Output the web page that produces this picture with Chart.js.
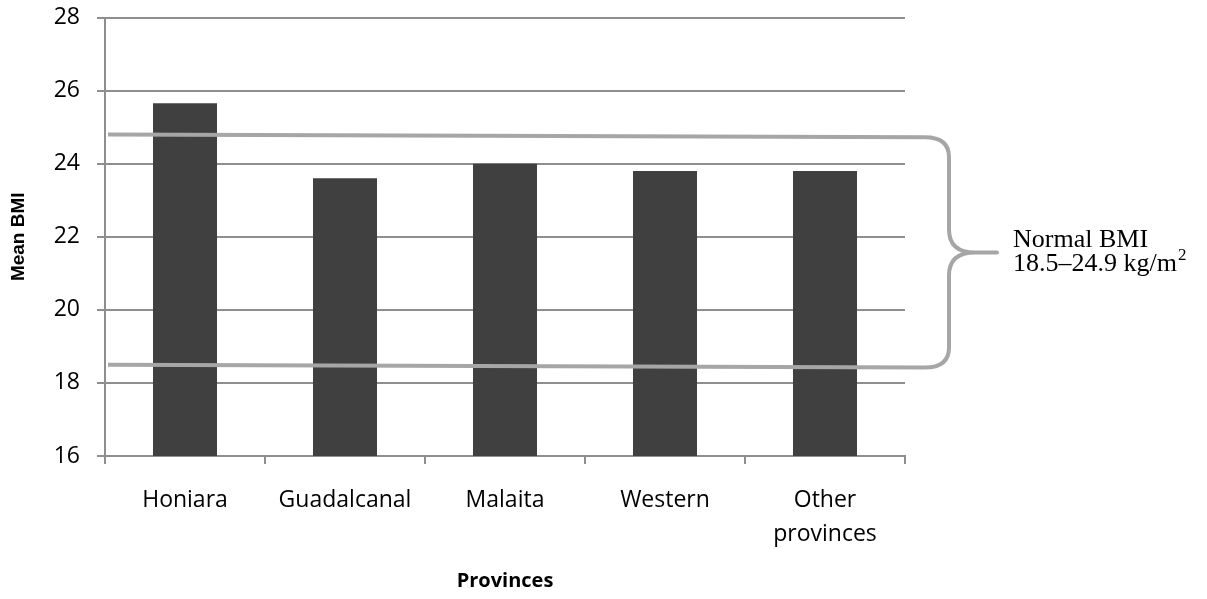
<!DOCTYPE html>
<html>
<head>
<meta charset="utf-8">
<script src="https://cdn.jsdelivr.net/npm/chart.js@4"></script>
<style>
  body { margin: 0; background: #fff; }
</style>
</head>
<body>
<canvas id="bmi" width="1207" height="599"></canvas>
<script>
// mean BMI per province
const provinces = ['Honiara', 'Guadalcanal', 'Malaita', 'Western', ['Other', 'provinces']];
const meanBmi = [25.65, 23.6, 24.0, 23.8, 23.8];
const yTicks = [16, 18, 20, 22, 24, 26, 28];

// normal range brace: upper / lower edge at the left and right end
const rangeUpper = [24.8, 24.72];
const rangeLower = [18.5, 18.42];
const rangeLabel = ['Normal BMI', '18.5\u201324.9 kg/m', '2'];

const gridColor = '#8e8e8e';
const tickFont = { family: 'Open Sans', size: 23 };

// draws the bracket lines and the label next to the chart
const bracePlugin = {
  id: 'brace',
  afterDatasetsDraw(chart) {
    const { ctx, chartArea, scales } = chart;
    const y = scales.y;
    const x0 = chartArea.left + 3;
    const xr = chartArea.right + 20;
    const xv = chartArea.right + 44;
    const xt = chartArea.right + 92;
    const yT0 = y.getPixelForValue(rangeUpper[0]);
    const yT1 = y.getPixelForValue(rangeUpper[1]);
    const yB0 = y.getPixelForValue(rangeLower[0]);
    const yB1 = y.getPixelForValue(rangeLower[1]);
    const yM = (yT1 + yB1) / 2;
    const r = 20;

    ctx.save();
    ctx.strokeStyle = '#a6a6a6';
    ctx.lineWidth = 4;
    ctx.lineJoin = 'round';
    ctx.lineCap = 'butt';
    ctx.beginPath();
    ctx.moveTo(x0, yT0);
    ctx.lineTo(xr, yT1);
    ctx.quadraticCurveTo(xv, yT1, xv, yT1 + r);
    ctx.lineTo(xv, yM - 23);
    ctx.quadraticCurveTo(xv, yM, xv + 26, yM);
    ctx.lineTo(xt, yM);
    ctx.lineTo(xv + 26, yM);
    ctx.quadraticCurveTo(xv, yM, xv, yM + 23);
    ctx.lineTo(xv, yB1 - r);
    ctx.quadraticCurveTo(xv, yB1, xr, yB1);
    ctx.lineTo(x0, yB0);
    ctx.stroke();

    ctx.fillStyle = '#000';
    ctx.font = '26px "Liberation Serif"';
    ctx.textBaseline = 'alphabetic';
    ctx.textAlign = 'left';
    const tx = chartArea.right + 108;
    ctx.fillText(rangeLabel[0], tx, yM - 5);
    ctx.fillText(rangeLabel[1], tx, yM + 19);
    const w = ctx.measureText(rangeLabel[1]).width;
    ctx.font = '17px "Liberation Serif"';
    ctx.fillText(rangeLabel[2], tx + w + 1, yM + 8);
    ctx.restore();
  }
};

new Chart(document.getElementById('bmi'), {
  type: 'bar',
  data: {
    labels: provinces,
    datasets: [{
      data: meanBmi,
      backgroundColor: '#404040',
      borderWidth: 0,
      barPercentage: 0.4,
      categoryPercentage: 1
    }]
  },
  options: {
    responsive: false,
    animation: false,
    layout: { padding: { left: 0, right: 302, top: 17.5, bottom: 0 } },
    plugins: {
      legend: { display: false },
      tooltip: { enabled: false }
    },
    scales: {
      x: {
        grid: {
          offset: true,
          drawOnChartArea: false,
          drawTicks: true,
          tickLength: 8,
          color: gridColor,
          lineWidth: 2
        },
        border: { color: gridColor, width: 2 },
        ticks: {
          color: '#000',
          font: { ...tickFont, lineHeight: 34 / 23 },
          padding: 19,
          maxRotation: 0,
          autoSkip: false
        },
        title: {
          display: true,
          text: 'Provinces',
          color: '#000',
          font: { family: 'Open Sans', size: 20, weight: 'bold', lineHeight: 1.2 },
          padding: { top: 0, bottom: 6 }
        },
        afterFit(scale) {
          scale.height = 143;
          scale.paddingLeft = 0;
          scale.paddingRight = 0;
        }
      },
      y: {
        min: yTicks[0],
        max: yTicks[yTicks.length - 1],
        afterBuildTicks(scale) { scale.ticks = yTicks.map(v => ({ value: v })); },
        grid: {
          color: gridColor,
          lineWidth: 2,
          tickLength: 8
        },
        border: { color: gridColor, width: 2 },
        ticks: {
          color: '#000',
          font: tickFont,
          padding: 17
        },
        title: {
          display: true,
          text: 'Mean BMI',
          color: '#000',
          font: { family: 'Liberation Sans', size: 19, weight: 'bold', lineHeight: 1.2 },
          padding: { top: 7, bottom: 0 }
        },
        afterFit(scale) {
          scale.width = 105;
          scale.paddingTop = 0;
          scale.paddingBottom = 0;
        }
      }
    }
  },
  plugins: [bracePlugin]
});
</script>
</body>
</html>
